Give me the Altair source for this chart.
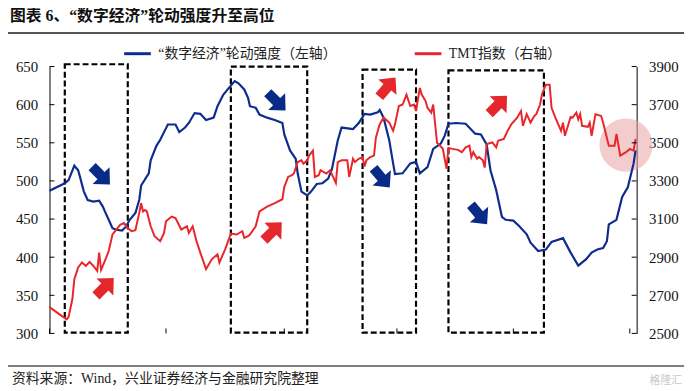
import altair as alt
import pandas as pd

# ---------------- data ----------------
blue_dates = [
    "2022-10-01", "2022-10-09", "2022-10-11", "2022-10-14", "2022-10-16", "2022-10-17", "2022-10-19", "2022-10-21", "2022-10-24", "2022-10-27", "2022-10-29", "2022-10-30",
    "2022-11-01", "2022-11-03", "2022-11-05", "2022-11-08", "2022-11-10", "2022-11-12", "2022-11-15", "2022-11-17", "2022-11-18", "2022-11-22", "2022-11-23", "2022-11-26", "2022-11-28", "2022-11-30",
    "2022-12-02", "2022-12-06", "2022-12-08", "2022-12-11", "2022-12-13", "2022-12-16", "2022-12-19", "2022-12-22", "2022-12-26", "2022-12-28", "2022-12-31",
    "2023-01-03", "2023-01-06", "2023-01-08", "2023-01-11", "2023-01-13", "2023-01-14", "2023-01-17", "2023-01-19", "2023-01-23", "2023-01-27", "2023-01-31",
    "2023-02-01", "2023-02-04", "2023-02-07", "2023-02-08", "2023-02-10", "2023-02-13", "2023-02-15", "2023-02-18", "2023-02-21", "2023-02-24", "2023-02-26",
    "2023-03-01", "2023-03-03", "2023-03-09", "2023-03-12", "2023-03-15", "2023-03-18", "2023-03-22", "2023-03-23", "2023-03-25", "2023-03-28", "2023-03-30", "2023-03-31",
    "2023-04-04", "2023-04-08", "2023-04-11", "2023-04-13", "2023-04-17", "2023-04-20", "2023-04-24", "2023-04-26", "2023-04-28",
    "2023-05-02", "2023-05-07", "2023-05-12", "2023-05-15", "2023-05-18", "2023-05-20", "2023-05-23", "2023-05-26", "2023-05-28",
    "2023-06-01", "2023-06-04", "2023-06-08", "2023-06-10", "2023-06-14", "2023-06-18", "2023-06-21", "2023-06-27",
    "2023-07-01", "2023-07-05", "2023-07-09", "2023-07-12", "2023-07-15", "2023-07-18", "2023-07-20", "2023-07-21", "2023-07-25", "2023-07-28", "2023-07-31",
    "2023-08-03", "2023-08-04",
]
blue_values = [
    487, 497, 501, 520, 514, 505, 486, 475, 473, 474, 466, 460,
    449, 438, 436, 435, 440, 449, 458, 475, 494, 510, 527, 546, 554, 564,
    574, 574, 564, 570, 576, 589, 588, 580, 583, 598, 613,
    622, 631, 628, 620, 609, 598, 596, 587, 583, 580, 576,
    561, 540, 529, 510, 486, 481, 486, 496, 497, 503, 516,
    553, 570, 568, 576, 588, 587, 590, 593, 583, 553, 523, 509,
    510, 523, 525, 510, 518, 542, 549, 559, 575,
    576, 575, 562, 561, 548, 514, 488, 453, 449,
    448, 441, 430, 419, 408, 410, 420, 425,
    406, 389, 397, 406, 410, 412, 421, 443, 449, 479, 492,
    523, 540,
]

red_dates = [
    "2022-10-01", "2022-10-07", "2022-10-10", "2022-10-11", "2022-10-13", "2022-10-14", "2022-10-16", "2022-10-18", "2022-10-20", "2022-10-22", "2022-10-24", "2022-10-26", "2022-10-27", "2022-10-28", "2022-10-30",
    "2022-11-01", "2022-11-03", "2022-11-05", "2022-11-07", "2022-11-09", "2022-11-11", "2022-11-13", "2022-11-15", "2022-11-17", "2022-11-18", "2022-11-19", "2022-11-20", "2022-11-21", "2022-11-23", "2022-11-25", "2022-11-28", "2022-11-30",
    "2022-12-01", "2022-12-04", "2022-12-06", "2022-12-09", "2022-12-12", "2022-12-13", "2022-12-15", "2022-12-17", "2022-12-19", "2022-12-22", "2022-12-25", "2022-12-28", "2022-12-29",
    "2023-01-01", "2023-01-04", "2023-01-07", "2023-01-10", "2023-01-11", "2023-01-13", "2023-01-14", "2023-01-17", "2023-01-19", "2023-01-23", "2023-01-27", "2023-01-31",
    "2023-02-01", "2023-02-03", "2023-02-05", "2023-02-06", "2023-02-08", "2023-02-10", "2023-02-11", "2023-02-13", "2023-02-14", "2023-02-16", "2023-02-17", "2023-02-19", "2023-02-20", "2023-02-23", "2023-02-25", "2023-02-28",
    "2023-03-01", "2023-03-03", "2023-03-06", "2023-03-07", "2023-03-09", "2023-03-10", "2023-03-12", "2023-03-14", "2023-03-15", "2023-03-16", "2023-03-18", "2023-03-20", "2023-03-21", "2023-03-23", "2023-03-25", "2023-03-28", "2023-03-30", "2023-03-31",
    "2023-04-02", "2023-04-04", "2023-04-06", "2023-04-08", "2023-04-10", "2023-04-11", "2023-04-13", "2023-04-14", "2023-04-16", "2023-04-17", "2023-04-19", "2023-04-20", "2023-04-22", "2023-04-25", "2023-04-27", "2023-04-28", "2023-04-30",
    "2023-05-03", "2023-05-05", "2023-05-07", "2023-05-09", "2023-05-10", "2023-05-11", "2023-05-13", "2023-05-14", "2023-05-16", "2023-05-17", "2023-05-18", "2023-05-21", "2023-05-23", "2023-05-24", "2023-05-27", "2023-05-29", "2023-05-31",
    "2023-06-03", "2023-06-05", "2023-06-06", "2023-06-08", "2023-06-10", "2023-06-12", "2023-06-13", "2023-06-15", "2023-06-16", "2023-06-18", "2023-06-20", "2023-06-21", "2023-06-23", "2023-06-26", "2023-06-27", "2023-06-28",
    "2023-07-01", "2023-07-02", "2023-07-04", "2023-07-05", "2023-07-06", "2023-07-07", "2023-07-10", "2023-07-11", "2023-07-12", "2023-07-14", "2023-07-17", "2023-07-18", "2023-07-21", "2023-07-24", "2023-07-25", "2023-07-27", "2023-07-30",
    "2023-08-01", "2023-08-03", "2023-08-04",
]
red_values = [
    2638, 2595, 2574, 2587, 2682, 2785, 2846, 2872, 2854, 2875, 2854, 2828, 2924, 2833, 2880,
    2932, 3019, 3045, 3070, 3079, 3053, 3036, 3041, 3131, 3183, 3140, 3148, 3140, 3062, 3010, 2984, 3027,
    3088, 3113, 3105, 3045, 3062, 3027, 3062, 2984, 2924, 2837, 2889, 2915, 2872,
    2941, 3024, 3019, 3036, 3001, 3010, 3019, 3062, 3140, 3165, 3183, 3204,
    3269, 3321, 3330, 3339, 3399, 3408, 3390, 3408, 3433, 3459, 3321, 3330, 3356, 3339, 3356, 3290,
    3399, 3408, 3408, 3321, 3416, 3399, 3416, 3425, 3376, 3408, 3425, 3433, 3528, 3598, 3632, 3606, 3563, 3598,
    3693, 3701, 3753, 3693, 3701, 3667, 3788, 3753, 3719, 3684, 3658, 3701, 3500, 3470, 3364, 3473, 3468,
    3463, 3451, 3476, 3485, 3425, 3451, 3416, 3425, 3408, 3370, 3494, 3502, 3476, 3511, 3520, 3563, 3598,
    3632, 3667, 3589, 3650, 3606, 3641, 3650, 3701, 3755, 3805, 3805, 3684, 3632, 3563, 3606, 3537,
    3635, 3632, 3658, 3623, 3650, 3589, 3584, 3606, 3537, 3650, 3641, 3606, 3485, 3485, 3546, 3433, 3451,
    3468, 3459, 3520,
]

series_names = ["\u201c数字经济\u201d轮动强度（左轴）", "TMT指数（右轴）"]
x_tick_dates = ["2022-10-01", "2022-12-01", "2023-02-01", "2023-04-01", "2023-06-01", "2023-08-01"]
left_ticks = [300, 350, 400, 450, 500, 550, 600, 650]
right_ticks = [2500, 2700, 2900, 3100, 3300, 3500, 3700, 3900]

# dashed highlight boxes (dates, left-axis values)
box_starts = ["2022-10-09", "2023-01-04", "2023-03-14", "2023-04-28"]
box_ends = ["2022-11-11", "2023-02-13", "2023-04-11", "2023-06-17"]
box_tops = [653, 650, 646, 645]
box_bottoms = [301, 301, 301, 301]

# arrows (dates, left-axis values)
arrow_dates = ["2022-10-28", "2022-10-30", "2023-01-28", "2023-01-26", "2023-03-27", "2023-03-24", "2023-05-24", "2023-05-14"]
arrow_values = [507, 361, 604, 434, 623, 504, 600, 456]
arrow_kinds = ["down", "up", "down", "up", "up", "down", "up", "down"]
arrow_angles = [135, 45, 135, 45, 40, 140, 45, 140]

circle_date = ["2023-07-30"]
circle_value = [547]

title_text = "图表 6、\u201c数字经济\u201d轮动强度升至高位"
source_text = "资料来源：Wind，兴业证券经济与金融研究院整理"
watermark_text = "格隆汇"

# ---------------- styling ----------------
W, H = 594, 270
BLUE = "#0E2C8E"
RED = "#E8262B"
SERIF = "Liberation Serif"
MIXED = "Liberation Serif, Noto Sans CJK SC"
CJK = "Noto Sans CJK SC"
ARROW = "M0,-1L0.95,0L0.4,0L0.4,1L-0.4,1L-0.4,0L-0.95,0Z"

x_domain = [alt.DateTime(year=2022, month=10, date=1, utc=True),
            alt.DateTime(year=2023, month=8, date=4, hours=14, utc=True)]
xscale = alt.Scale(type="utc", domain=x_domain)
left_scale = alt.Scale(domain=[300, 650], nice=False, zero=False)
right_scale = alt.Scale(domain=[2500, 3900], nice=False, zero=False)

x_axis = alt.Axis(
    values=[alt.DateTime(year=int(d[:4]), month=int(d[5:7]), date=1, utc=True) for d in x_tick_dates],
    format="%Y-%m", ticks=False, labelPadding=9, domainColor="#000", domainWidth=1,
    labelFont=SERIF, labelFontSize=15, labelColor="#111", grid=False, title=None,
    labelFlush=False, labelOverlap=False,
)

def y_axis(orient, vals):
    return alt.Axis(orient=orient, values=vals, format="d", ticks=False, labelPadding=12,
                    domainColor="#000", domainWidth=1, labelFont=SERIF, labelFontSize=15,
                    labelColor="#111", grid=False, title=None)

color = alt.Color(
    "series:N",
    scale=alt.Scale(domain=series_names, range=[BLUE, RED]),
    legend=alt.Legend(orient="none", legendX=74, legendY=-28, direction="horizontal",
                      title=None, symbolType="stroke", symbolStrokeWidth=3, symbolSize=729,
                      labelFont=MIXED, labelFontSize=14, labelColor="#222",
                      columnPadding=72, labelOffset=6, padding=0, labelLimit=400),
)

blue_df = pd.DataFrame({"date": blue_dates, "value": blue_values, "series": series_names[0]})
red_df = pd.DataFrame({"date": red_dates, "value": red_values, "series": series_names[1]})
box_df = pd.DataFrame({"start": box_starts, "end": box_ends, "top": box_tops, "bottom": box_bottoms})
arrow_df = pd.DataFrame({"date": arrow_dates, "value": arrow_values, "kind": arrow_kinds, "angle": arrow_angles})
arrow_df["c"] = arrow_df["kind"].map({"down": "#0A2A88", "up": "#E3272A"})
circle_df = pd.DataFrame({"date": circle_date, "value": circle_value})

circle = alt.Chart(circle_df).mark_point(shape="circle", filled=True, size=2900,
                                         color="#E9A2A5", opacity=0.55).encode(
    x=alt.X("date:T", scale=xscale, axis=None),
    y=alt.Y("value:Q", scale=left_scale, axis=None),
)

boxes = alt.Chart(box_df).mark_rect(fill="transparent", stroke="#000", strokeWidth=2.2,
                                    strokeDash=[6, 3]).encode(
    x=alt.X("start:T", scale=xscale, axis=None),
    x2="end:T",
    y=alt.Y("top:Q", scale=left_scale, axis=None),
    y2="bottom:Q",
)

blue = alt.Chart(blue_df).mark_line(strokeWidth=2.2).encode(
    x=alt.X("date:T", scale=xscale, axis=x_axis),
    y=alt.Y("value:Q", scale=left_scale, axis=y_axis("left", left_ticks)),
    color=color,
)

red = alt.Chart(red_df).mark_line(strokeWidth=2).encode(
    x=alt.X("date:T", scale=xscale, axis=x_axis),
    y=alt.Y("value:Q", scale=right_scale, axis=y_axis("right", right_ticks)),
    color=color,
)

arrows = alt.Chart(arrow_df).mark_point(shape=ARROW, filled=True, size=650, opacity=1).encode(
    x=alt.X("date:T", scale=xscale, axis=None),
    y=alt.Y("value:Q", scale=left_scale, axis=None),
    color=alt.Color("c:N", scale=None, legend=None),
    angle=alt.Angle("angle:Q", scale=None),
)

xt = alt.Chart(pd.DataFrame({"date": x_tick_dates})).mark_rule(color="#000", strokeWidth=1).encode(
    x=alt.X("date:T", scale=xscale, axis=None), y=alt.value(H), y2=alt.value(H - 5))
lt = alt.Chart(pd.DataFrame({"v": left_ticks})).mark_rule(color="#000", strokeWidth=1).encode(
    y=alt.Y("v:Q", scale=left_scale, axis=None), x=alt.value(0), x2=alt.value(5))
rt = alt.Chart(pd.DataFrame({"v": right_ticks})).mark_rule(color="#000", strokeWidth=1).encode(
    y=alt.Y("v:Q", scale=right_scale, axis=None), x=alt.value(W - 5), x2=alt.value(W))

title = alt.Chart(pd.DataFrame({"t": [title_text]})).mark_text(
    align="left", baseline="middle", font=MIXED, fontSize=16, fontWeight="bold", color="#111").encode(
    text="t:N", x=alt.value(-40), y=alt.value(-51))
top_line = alt.Chart(pd.DataFrame({"t": [0]})).mark_rule(color="#555", strokeWidth=2).encode(
    x=alt.value(-42), x2=alt.value(642), y=alt.value(-34))
bottom_line = alt.Chart(pd.DataFrame({"t": [0]})).mark_rule(color="#555", strokeWidth=1.5).encode(
    x=alt.value(-42), x2=alt.value(642), y=alt.value(303))
source = alt.Chart(pd.DataFrame({"t": [source_text]})).mark_text(
    align="left", baseline="middle", font=MIXED, fontSize=14, color="#222").encode(
    text="t:N", x=alt.value(-38), y=alt.value(316))
wm = alt.Chart(pd.DataFrame({"t": [watermark_text]})).mark_text(
    align="right", baseline="middle", font=CJK, fontSize=11, color="#C8C8C8").encode(
    text="t:N", x=alt.value(640), y=alt.value(318))

chart = alt.layer(
    circle, boxes, blue, red, arrows, xt, lt, rt, title, top_line, bottom_line, source, wm
).resolve_scale(y="independent").properties(
    width=W, height=H,
    padding={"left": 42, "top": 57, "right": 56, "bottom": 56},
    autosize=alt.AutoSizeParams(type="none"),
).configure_view(stroke=None)

chart.save("out.html", embed_options={"renderer": "svg", "actions": False})
